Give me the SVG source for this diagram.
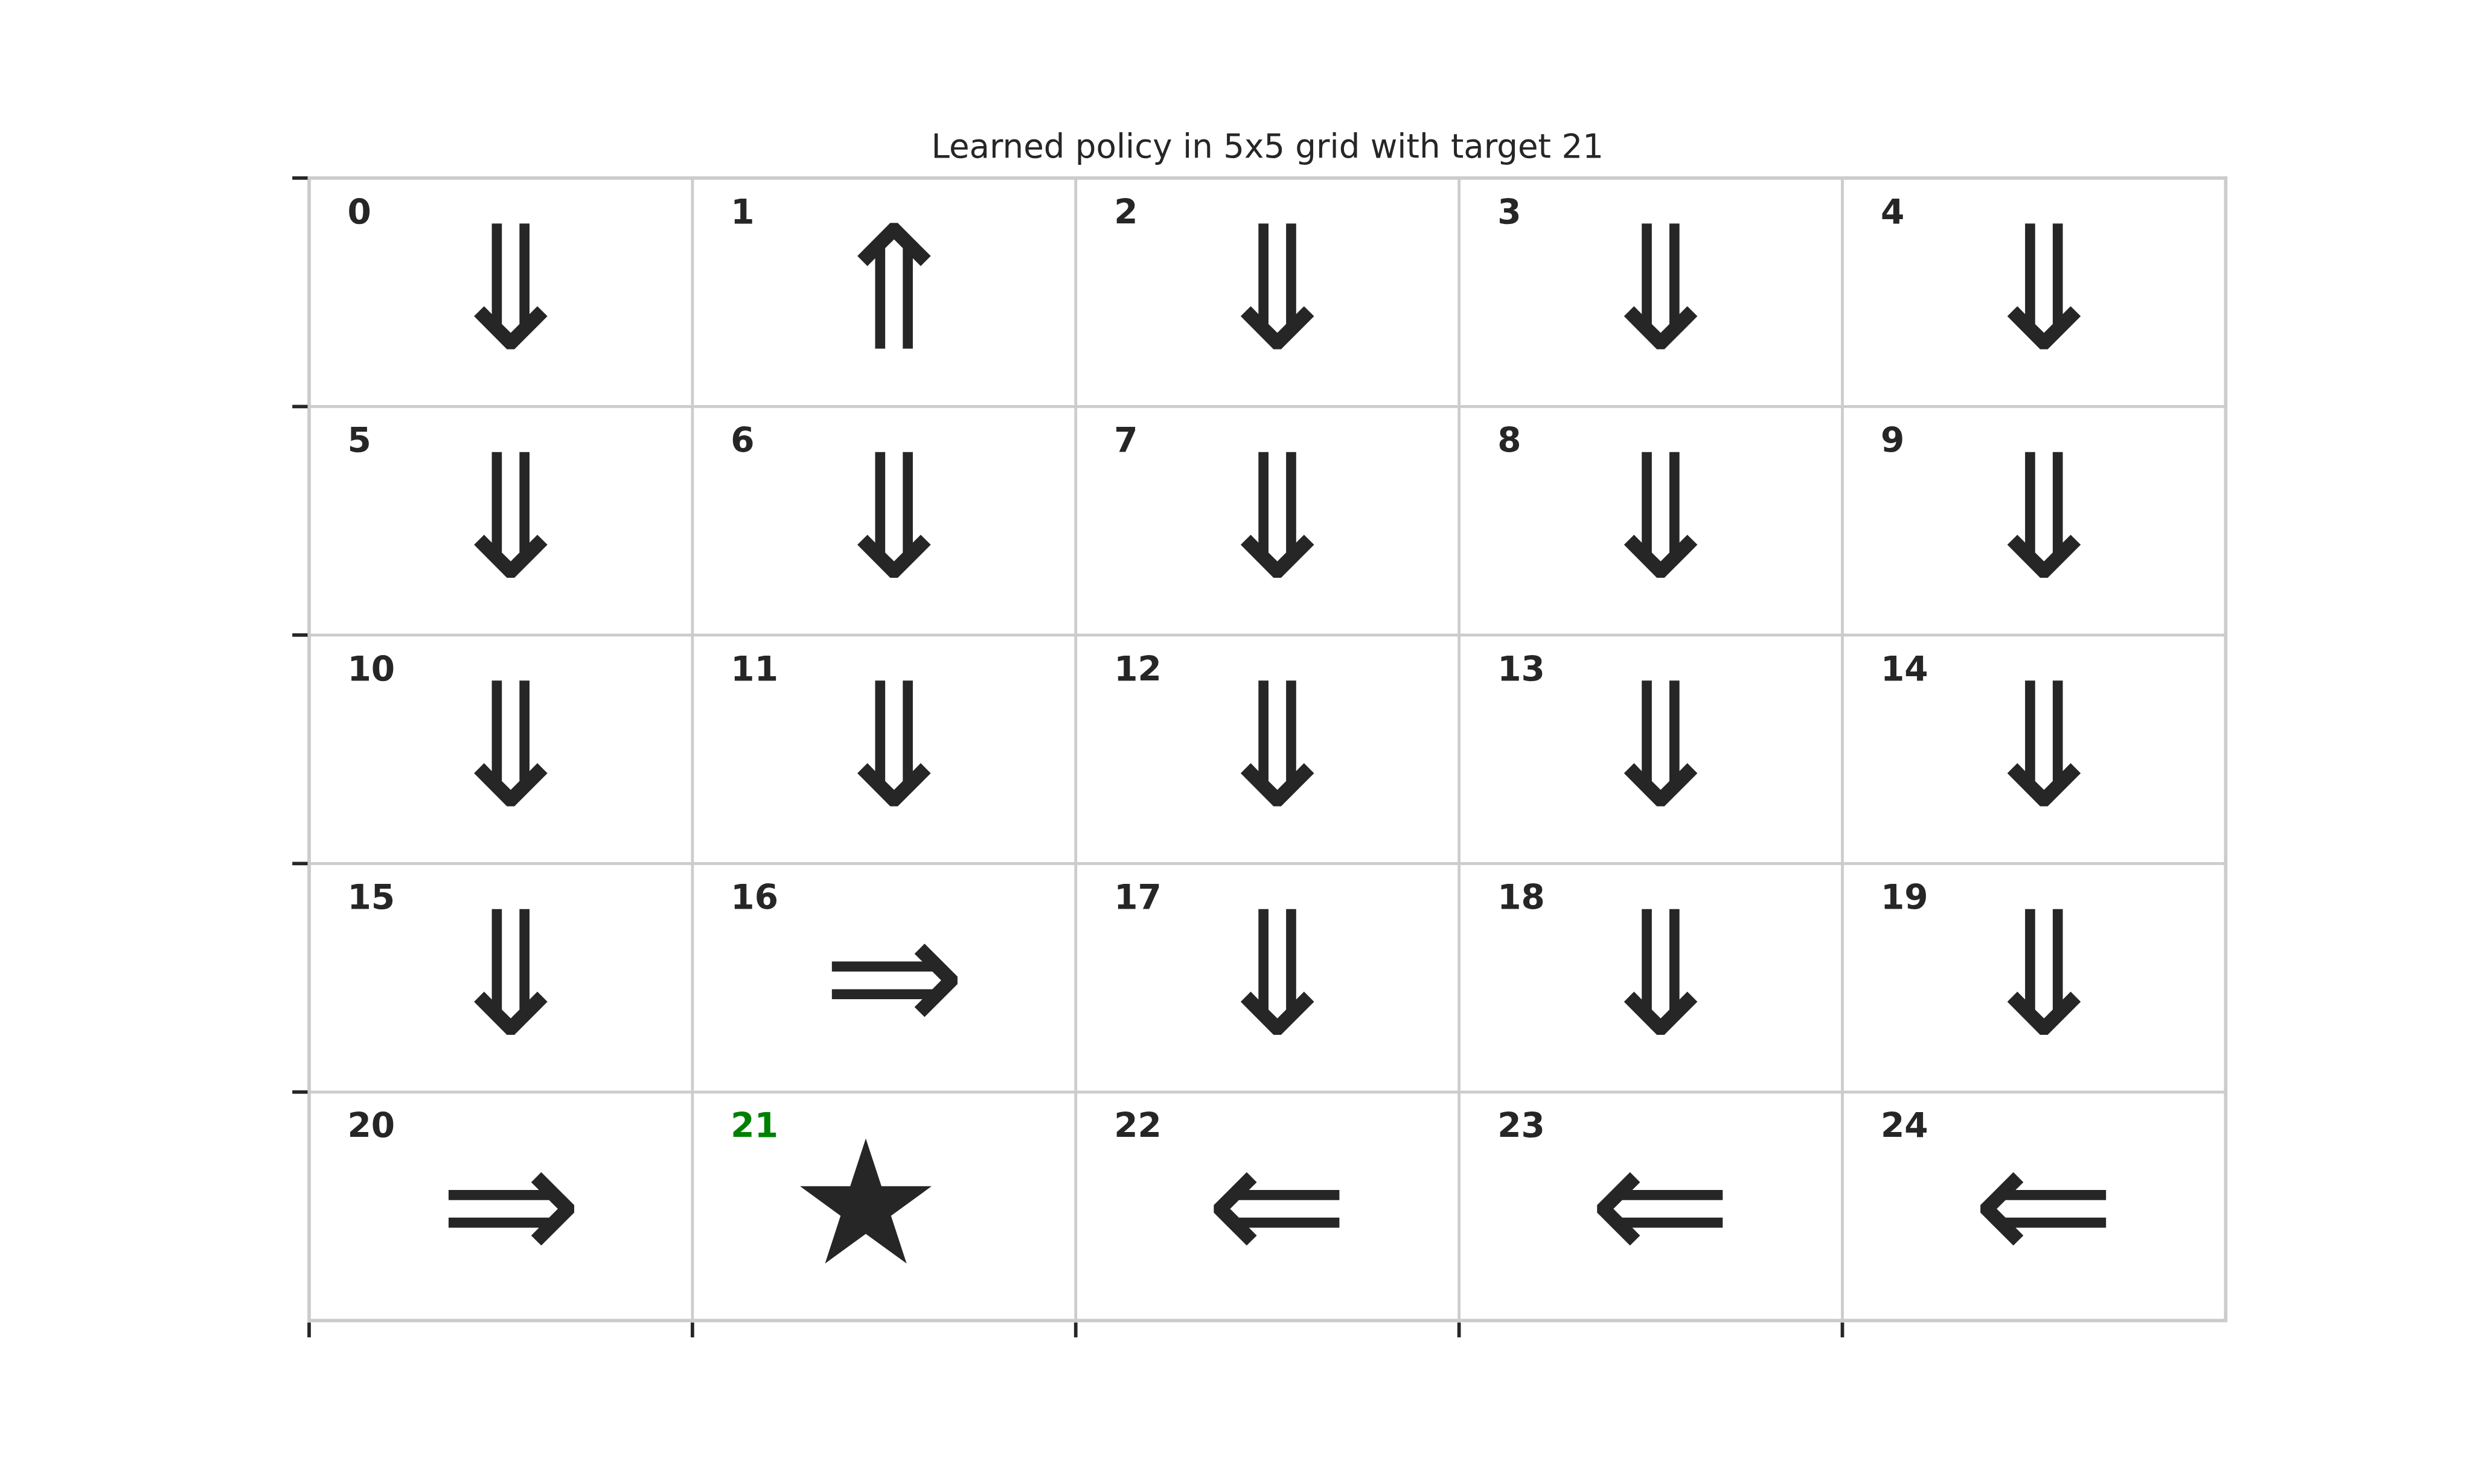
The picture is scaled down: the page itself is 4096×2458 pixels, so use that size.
<svg xmlns="http://www.w3.org/2000/svg" width="4096" height="2458" viewBox="0 0 4096 2458">
<style>
.bg{fill:#ffffff}
.gl{stroke:#cccccc;stroke-width:5.8;fill:none}
.sp{stroke:#cccccc;stroke-width:7;fill:none}
.tk{stroke:#262626;stroke-width:7}
.lbl{font-family:"DejaVu Sans",sans-serif;font-weight:bold;font-size:69px;fill:#262626}
.tgt{fill:#008000}
.sym{font-family:"DejaVu Sans",sans-serif;font-size:347px;fill:#262626;text-anchor:middle}
.ttl{font-family:"DejaVu Sans",sans-serif;font-size:66.7px;fill:#262626;text-anchor:middle}
</style>
<rect class="bg" x="0" y="0" width="4096" height="2458"/>
<g transform="scale(0.8192)">
<text class="ttl" x="2562.5" y="318.5">Learned policy in 5x5 grid with target 21</text>
<g id="connectors">
<g id="grid">
<line class="gl" x1="1400" y1="360" x2="1400" y2="2670"/>
<line class="gl" x1="2175" y1="360" x2="2175" y2="2670"/>
<line class="gl" x1="2950" y1="360" x2="2950" y2="2670"/>
<line class="gl" x1="3725" y1="360" x2="3725" y2="2670"/>
<line class="gl" x1="625" y1="822" x2="4500" y2="822"/>
<line class="gl" x1="625" y1="1284" x2="4500" y2="1284"/>
<line class="gl" x1="625" y1="1746" x2="4500" y2="1746"/>
<line class="gl" x1="625" y1="2208" x2="4500" y2="2208"/>
<rect class="sp" x="625" y="360" width="3875" height="2310"/>
</g>
<g id="ticks">
<line class="tk" x1="591" y1="360" x2="622" y2="360"/>
<line class="tk" x1="591" y1="822" x2="622" y2="822"/>
<line class="tk" x1="591" y1="1284" x2="622" y2="1284"/>
<line class="tk" x1="591" y1="1746" x2="622" y2="1746"/>
<line class="tk" x1="591" y1="2208" x2="622" y2="2208"/>
<line class="tk" x1="625" y1="2674" x2="625" y2="2704"/>
<line class="tk" x1="1400" y1="2674" x2="1400" y2="2704"/>
<line class="tk" x1="2175" y1="2674" x2="2175" y2="2704"/>
<line class="tk" x1="2950" y1="2674" x2="2950" y2="2704"/>
<line class="tk" x1="3725" y1="2674" x2="3725" y2="2704"/>
</g>
</g>
<g id="cell-0"><text class="lbl" x="702.5" y="452.4">0</text><text class="sym" x="1032.5" y="705">⇓</text></g>
<g id="cell-1"><text class="lbl" x="1477.5" y="452.4">1</text><text class="sym" x="1807.5" y="705">⇑</text></g>
<g id="cell-2"><text class="lbl" x="2252.5" y="452.4">2</text><text class="sym" x="2582.5" y="705">⇓</text></g>
<g id="cell-3"><text class="lbl" x="3027.5" y="452.4">3</text><text class="sym" x="3357.5" y="705">⇓</text></g>
<g id="cell-4"><text class="lbl" x="3802.5" y="452.4">4</text><text class="sym" x="4132.5" y="705">⇓</text></g>
<g id="cell-5"><text class="lbl" x="702.5" y="914.4">5</text><text class="sym" x="1032.5" y="1167">⇓</text></g>
<g id="cell-6"><text class="lbl" x="1477.5" y="914.4">6</text><text class="sym" x="1807.5" y="1167">⇓</text></g>
<g id="cell-7"><text class="lbl" x="2252.5" y="914.4">7</text><text class="sym" x="2582.5" y="1167">⇓</text></g>
<g id="cell-8"><text class="lbl" x="3027.5" y="914.4">8</text><text class="sym" x="3357.5" y="1167">⇓</text></g>
<g id="cell-9"><text class="lbl" x="3802.5" y="914.4">9</text><text class="sym" x="4132.5" y="1167">⇓</text></g>
<g id="cell-10"><text class="lbl" x="702.5" y="1376.4">10</text><text class="sym" x="1032.5" y="1629">⇓</text></g>
<g id="cell-11"><text class="lbl" x="1477.5" y="1376.4">11</text><text class="sym" x="1807.5" y="1629">⇓</text></g>
<g id="cell-12"><text class="lbl" x="2252.5" y="1376.4">12</text><text class="sym" x="2582.5" y="1629">⇓</text></g>
<g id="cell-13"><text class="lbl" x="3027.5" y="1376.4">13</text><text class="sym" x="3357.5" y="1629">⇓</text></g>
<g id="cell-14"><text class="lbl" x="3802.5" y="1376.4">14</text><text class="sym" x="4132.5" y="1629">⇓</text></g>
<g id="cell-15"><text class="lbl" x="702.5" y="1838.4">15</text><text class="sym" x="1032.5" y="2091">⇓</text></g>
<g id="cell-16"><text class="lbl" x="1477.5" y="1838.4">16</text><text class="sym" x="1807.5" y="2091">⇒</text></g>
<g id="cell-17"><text class="lbl" x="2252.5" y="1838.4">17</text><text class="sym" x="2582.5" y="2091">⇓</text></g>
<g id="cell-18"><text class="lbl" x="3027.5" y="1838.4">18</text><text class="sym" x="3357.5" y="2091">⇓</text></g>
<g id="cell-19"><text class="lbl" x="3802.5" y="1838.4">19</text><text class="sym" x="4132.5" y="2091">⇓</text></g>
<g id="cell-20"><text class="lbl" x="702.5" y="2300.4">20</text><text class="sym" x="1032.5" y="2553">⇒</text></g>
<g id="cell-21"><text class="lbl tgt" x="1477.5" y="2300.4">21</text><text class="sym" x="1750.5" y="2553">★</text></g>
<g id="cell-22"><text class="lbl" x="2252.5" y="2300.4">22</text><text class="sym" x="2582.5" y="2553">⇐</text></g>
<g id="cell-23"><text class="lbl" x="3027.5" y="2300.4">23</text><text class="sym" x="3357.5" y="2553">⇐</text></g>
<g id="cell-24"><text class="lbl" x="3802.5" y="2300.4">24</text><text class="sym" x="4132.5" y="2553">⇐</text></g>
</g>
</svg>
